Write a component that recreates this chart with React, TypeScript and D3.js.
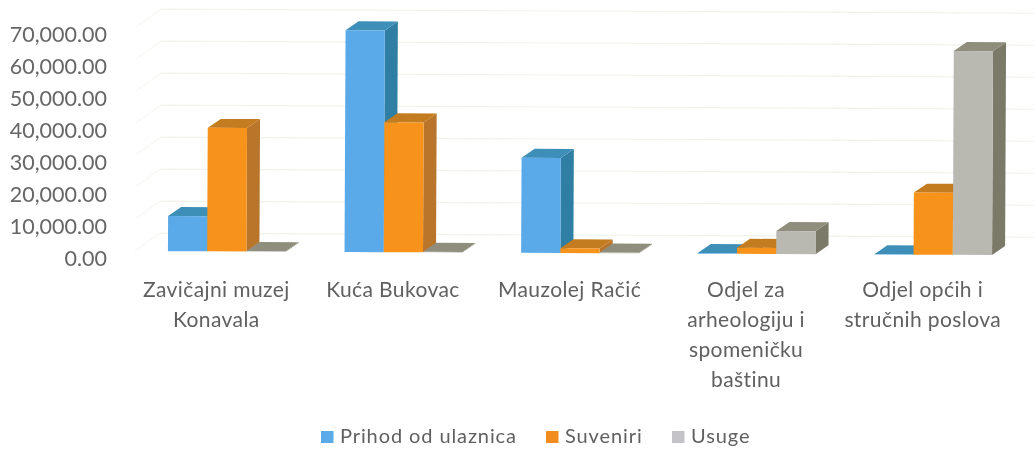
import { useEffect, useRef } from "react";
import * as d3 from "d3";

// values
const categories = ["Zavičajni muzej Konavala", "Kuća Bukovac", "Mauzolej Račić", "Odjel za arheologiju i spomeničku baštinu", "Odjel općih i stručnih poslova"];
const categoryLines = [
  ["Zavičajni muzej", "Konavala"],
  ["Kuća Bukovac"],
  ["Mauzolej Račić"],
  ["Odjel za", "arheologiju i", "spomeničku", "baštinu"],
  ["Odjel općih i", "stručnih poslova"],
];
const seriesNames = ["Prihod od ulaznica", "Suveniri", "Usuge"];
const ulaznice = [11000, 69300, 29700, 200, 100];
const suveniri = [38600, 40600, 1500, 1900, 19400];
const usluge = [200, 200, 200, 7200, 63700];
const yTicks = [0, 10000, 20000, 30000, 40000, 50000, 60000, 70000];

const frontColors = ["#5aa9e8", "#f7931a", "#b9b9b2"];
const topColors = ["#3d8fb8", "#c47c20", "#8f8e7c"];
const sideColors = ["#2f7ea3", "#b9752a", "#7b7a68"];
const legendSwatch = ["#5aa9e8", "#f28c1e", "#c4c4c8"];
const legendX = [321, 546, 672];

const width = 1034;
const height = 450;
const depthX = 13;
const depthY = 9;
const wallX = 25;
const wallY = 18;
const font = "Lato, 'Open Sans', sans-serif";

export default function App() {
  const ref = useRef<SVGSVGElement>(null);

  useEffect(() => {
    const svg = d3.select(ref.current);
    svg.selectAll("*").remove();

    const y = d3.scaleLinear().domain([0, 70000]).range([251, 27]);
    const x0 = d3.scaleBand().domain(categories).range([138.5, 1021.5]);
    const x1 = d3.scaleBand().domain(seriesNames).range([0, x0.bandwidth()]).paddingOuter(0.75).paddingInner(0);
    const values = [ulaznice, suveniri, usluge];

    // scan is tilted a little, so the plot is too
    const plot = svg.append("g").attr("transform", "rotate(0.27 135 251)");

    // back wall + floor gridlines
    yTicks.forEach((t) => {
      plot.append("line")
        .attr("x1", 135 + wallX).attr("x2", width + 10)
        .attr("y1", y(t) - wallY).attr("y2", y(t) - wallY)
        .attr("stroke", "#f2f2ec").attr("stroke-width", 1.2);
      plot.append("line")
        .attr("x1", 135).attr("x2", 135 + wallX)
        .attr("y1", y(t)).attr("y2", y(t) - wallY)
        .attr("stroke", "#f6f6f2").attr("stroke-width", 1.2);
    });

    // the bars, series by series inside each category
    categories.forEach((c, ci) => {
      seriesNames.forEach((s, si) => {
        const v = values[si][ci];
        const xl = x0(c)! + x1(s)!;
        const xr = xl + x1.bandwidth();
        const top = y(v);
        const base = y(0);
        const g = plot.append("g");
        g.append("path")
          .attr("d", `M${xr},${top}L${xr + depthX},${top - depthY}L${xr + depthX},${base - depthY}L${xr},${base}Z`)
          .attr("fill", sideColors[si]);
        g.append("path")
          .attr("d", `M${xl},${top}L${xl + depthX},${top - depthY}L${xr + depthX},${top - depthY}L${xr},${top}Z`)
          .attr("fill", topColors[si]);
        g.append("rect")
          .attr("x", xl).attr("y", top)
          .attr("width", x1.bandwidth()).attr("height", Math.max(0, base - top))
          .attr("fill", frontColors[si]);
      });
    });

    // y labels sit level with the front edge of the floor, below the bars' base
    const fmt = d3.format(",.2f");
    svg.append("g").selectAll("text").data(yTicks).join("text")
      .attr("x", 107).attr("y", (d) => y(d) + 15)
      .attr("text-anchor", "end")
      .attr("font-family", font).attr("font-size", 21.5).attr("fill", "#666")
      .text((d) => fmt(d));

    // category labels
    categories.forEach((c, ci) => {
      const cx = x0(c)! + x0.bandwidth() / 2 - 10.5;
      categoryLines[ci].forEach((line, li) => {
        svg.append("text")
          .attr("x", cx).attr("y", 297 + li * 30)
          .attr("text-anchor", "middle")
          .attr("font-family", font).attr("font-size", 21).attr("fill", "#606060")
          .attr("letter-spacing", 0.4)
          .text(line);
      });
    });

    // legend
    seriesNames.forEach((s, si) => {
      svg.append("rect")
        .attr("x", legendX[si]).attr("y", 431)
        .attr("width", 12.5).attr("height", 12)
        .attr("fill", legendSwatch[si]);
      svg.append("text")
        .attr("x", legendX[si] + 19).attr("y", 443)
        .attr("font-family", font).attr("font-size", 20).attr("fill", "#606060")
        .attr("letter-spacing", 0.9)
        .text(s);
    });
  }, []);

  return <svg ref={ref} width={width} height={height} style={{ position: "absolute", left: 0, top: 0, background: "#fff", filter: "blur(0.5px)" }} />;
}
